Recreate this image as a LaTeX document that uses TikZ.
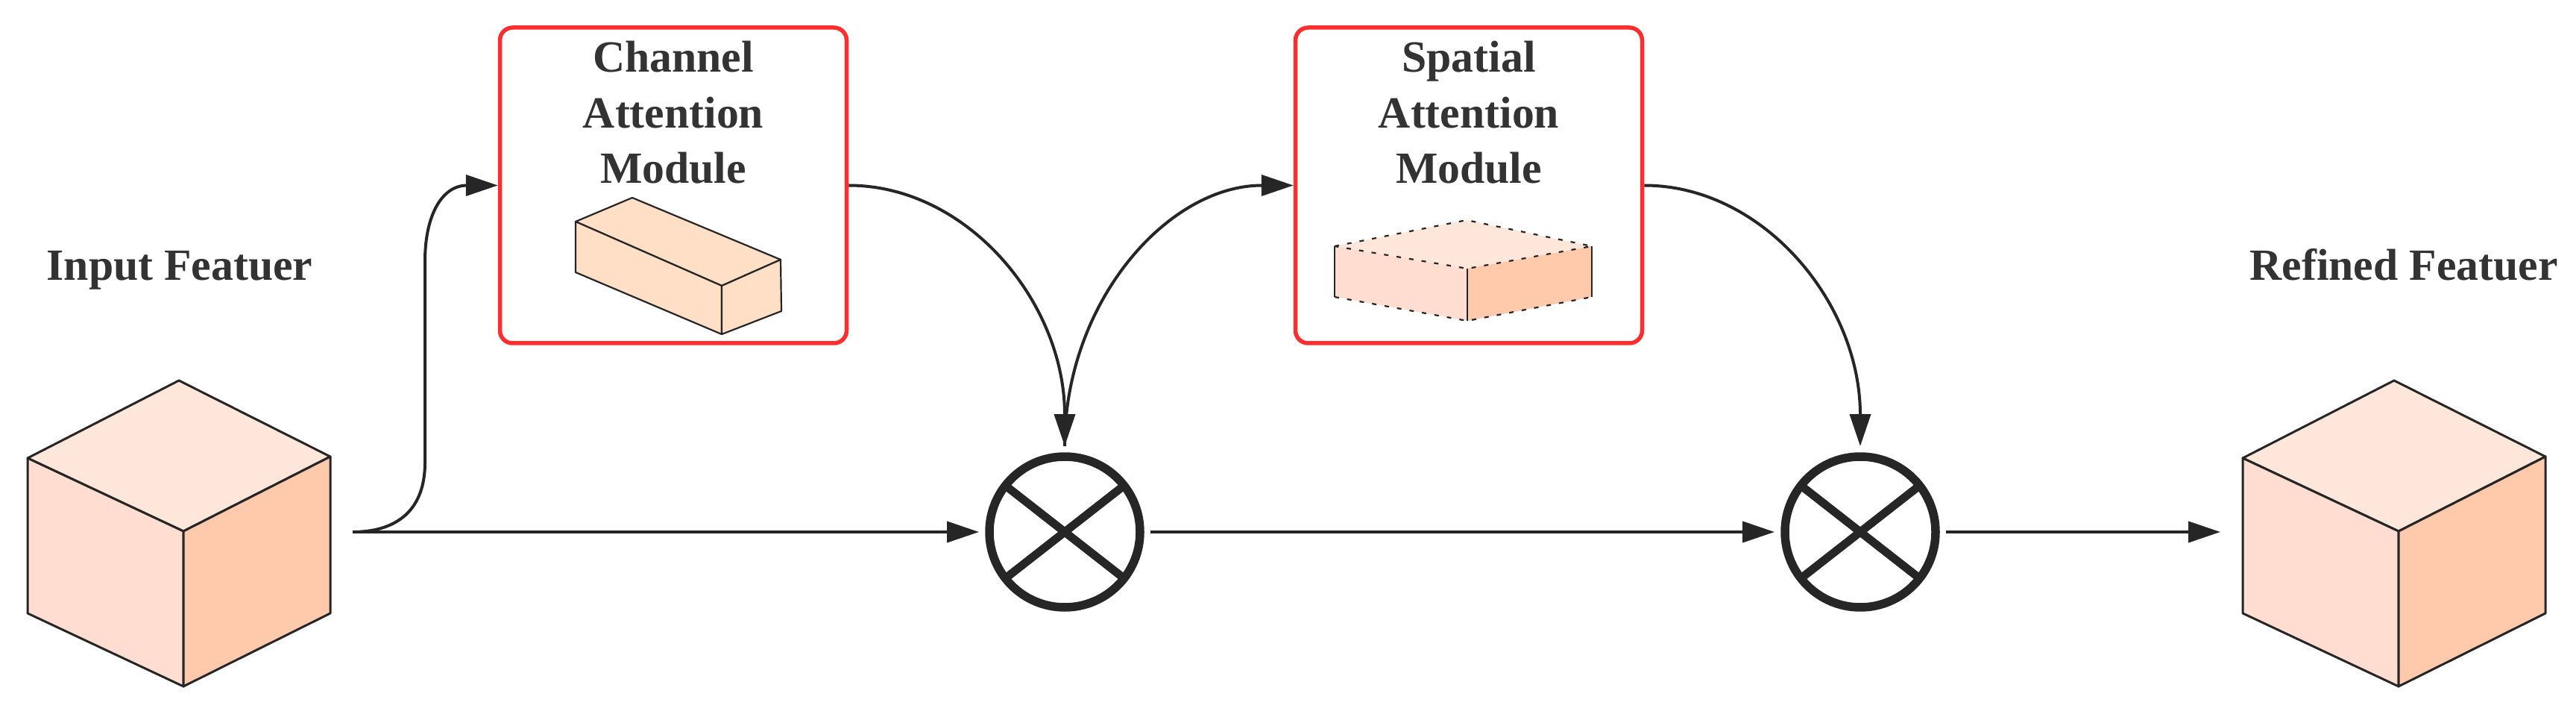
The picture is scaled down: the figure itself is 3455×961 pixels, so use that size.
\documentclass[tikz,border=0pt]{standalone}
\usepackage{fontspec}
\setmainfont{Liberation Serif}
\usetikzlibrary{arrows.meta,calc}
\definecolor{txtgray}{HTML}{333333}
\definecolor{edge}{HTML}{262626}
\definecolor{boxred}{HTML}{FF2E2E}
\definecolor{facetop}{HTML}{FFE6DA}
\definecolor{faceleft}{HTML}{FFDDD1}
\definecolor{faceright}{HTML}{FFC9AC}
\definecolor{brick}{HTML}{FFDFC5}
\tikzset{>={Triangle[length=4.3mm,width=2.8mm]}}

\begin{document}
\begin{tikzpicture}[x=0.1mm,y=-0.1mm,
  lbl/.style={font=\fontsize{17}{21.3}\selectfont\bfseries,text=txtgray,align=center,inner sep=0pt},
  modbox/.style={draw=boxred,line width=0.55mm,rounded corners=1.7mm,minimum width=46.5mm,minimum height=42.3mm},
  mult/.style={circle,draw=edge,line width=1.15mm,minimum size=20.2mm,outer sep=1.4mm,
    path picture={
      \draw[line width=1.1mm,edge] ([shift={(142:15mm)}]path picture bounding box.center) -- ([shift={(-38:15mm)}]path picture bounding box.center);
      \draw[line width=1.1mm,edge] ([shift={(38:15mm)}]path picture bounding box.center) -- ([shift={(-142:15mm)}]path picture bounding box.center);}},
  flow/.style={->,draw=edge,line width=0.4mm},
  cubeedge/.style={draw=edge,line width=0.3mm,line join=round},
  thinedge/.style={draw=edge,line width=0.22mm,line join=round},
  dotedge/.style={draw=edge,line width=0.22mm,dash pattern=on 0.6mm off 1.1mm},
]
\useasboundingbox (0,0) rectangle (3455,961);

% feature cubes
\foreach \cx in {37,3008}{
  \filldraw[cubeedge,fill=facetop] (\cx,614) -- (\cx+203,510) -- (\cx+406,612) -- (\cx+209,712) -- cycle;
  \filldraw[cubeedge,fill=faceleft] (\cx,614) -- (\cx+209,712) -- (\cx+209,920) -- (\cx,822) -- cycle;
  \filldraw[cubeedge,fill=faceright] (\cx+209,712) -- (\cx+406,612) -- (\cx+406,822) -- (\cx+209,920) -- cycle;
}
\node[lbl,anchor=base] (intext) at (241,376) {Input Featuer};
\node[lbl,anchor=base] (outtext) at (3224,376) {Refined Featuer};

% attention modules
\node[modbox] (cam) at (903,248.5) {};
\node[modbox] (sam) at (1970,248.5) {};
\node[lbl,anchor=north] (camtext) at (903,54) {Channel\\Attention\\Module};
\node[lbl,anchor=north] (samtext) at (1970,54) {Spatial\\Attention\\Module};

% channel map
\filldraw[thinedge,fill=brick] (772,297) -- (848,265) -- (1047,348) -- (968,383) -- cycle;
\filldraw[thinedge,fill=brick] (772,297) -- (968,383) -- (968,448) -- (772,365) -- cycle;
\filldraw[thinedge,fill=brick] (968,383) -- (1047,348) -- (1048,417) -- (968,448) -- cycle;

% spatial map
\fill[facetop] (1790,330) -- (1967,295) -- (2135,330) -- (1968,360) -- cycle;
\fill[faceleft] (1790,330) -- (1968,360) -- (1968,430) -- (1790,398) -- cycle;
\fill[faceright] (1968,360) -- (2135,330) -- (2135,398) -- (1968,430) -- cycle;
\draw[dotedge] (1790,330) -- (1967,295) -- (2135,330) -- (1968,360) -- cycle;
\draw[dotedge] (1790,398) -- (1968,430) -- (2135,398);
\draw[thinedge] (1790,330) -- (1790,398) (1968,360) -- (1968,430) (2135,330) -- (2135,398);

% multiplications
\node[mult] (mul1) at (1428,713) {};
\node[mult] (mul2) at (2495,713) {};
\coordinate (split) at (473,713);
\coordinate (refin) at (2978,713);

\draw[flow] (split) -- (mul1);
\draw[flow] (mul1) -- (mul2);
\draw[flow] (mul2) -- (refin);
\draw[flow] (split) .. controls (525,713) and (570,690) .. (570,620) -- (570,350) .. controls (570,285) and (595,248.5) .. (cam.west);
\draw[flow] (cam.east) .. controls (1297,248.5) and (1428,405) .. (mul1.north);
\draw[flow] (mul1.north) .. controls (1428,405) and (1566,248.5) .. (sam.west);
\draw[flow] (sam.east) .. controls (2364,248.5) and (2495,405) .. (mul2.north);
\end{tikzpicture}
\end{document}
